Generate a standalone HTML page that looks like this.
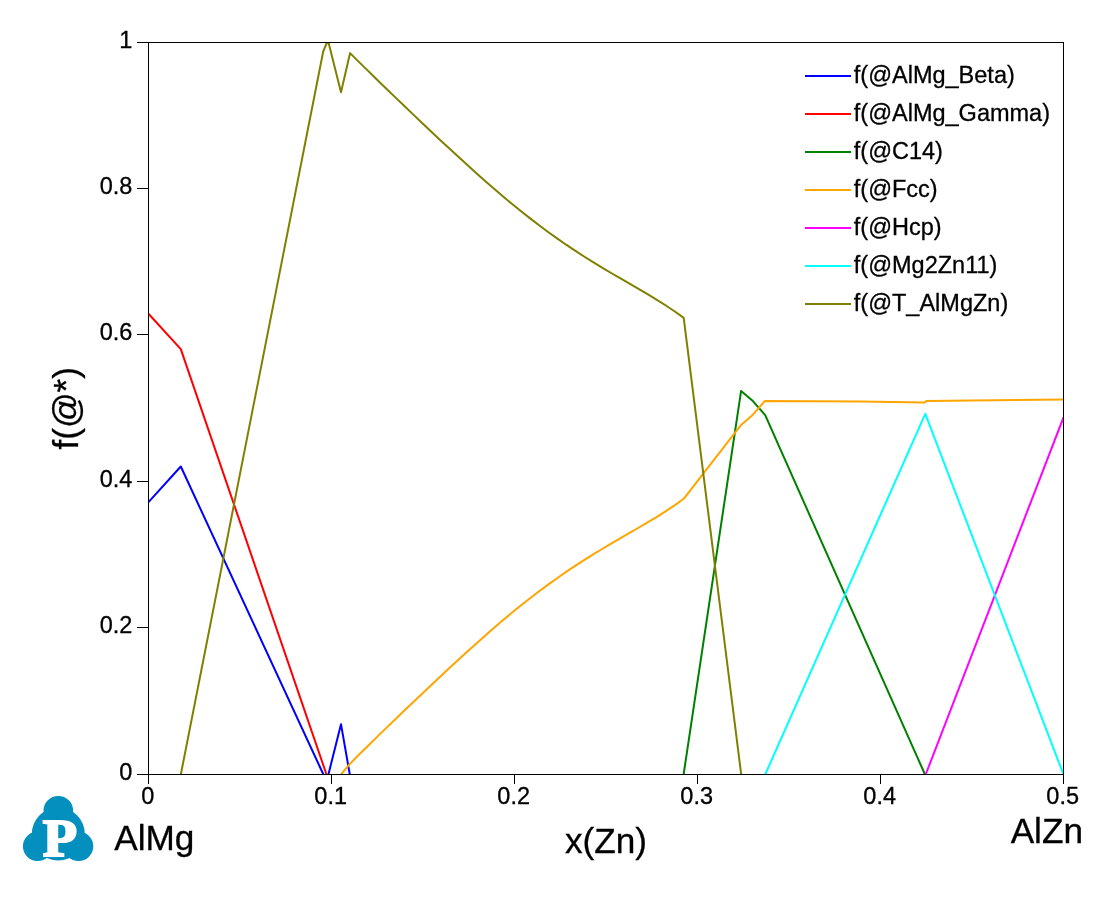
<!DOCTYPE html>
<html lang="en">
<head>
<meta charset="utf-8">
<title>f(@*) vs x(Zn)</title>
<style>
html,body{margin:0;padding:0;background:#fff;}
body{width:1115px;height:907px;overflow:hidden;}
svg{display:block;}
text{font-family:"Liberation Sans",Arial,Helvetica,sans-serif;fill:#000;stroke:#000;stroke-width:0.3px;}
.tick{font-size:23.5px;}
.leg{font-size:23.5px;}
.title{font-size:35.2px;}
.ax{stroke:#000;stroke-width:1;shape-rendering:crispEdges;fill:none;}
.ln{fill:none;stroke-width:2;stroke-linejoin:round;stroke-linecap:butt;}
</style>
</head>
<body>
<svg width="1115" height="907" viewBox="0 0 1115 907">
<rect x="0" y="0" width="1115" height="907" fill="#ffffff"/>
<defs><clipPath id="plot"><rect x="148" y="42" width="916" height="732.5"/></clipPath></defs>
<g clip-path="url(#plot)">
<polyline class="ln" stroke="#0000ff" points="148.5,502.1 180.8,466.5 323.4,774.5"/>
<polyline class="ln" stroke="#0000ff" points="328.4,774.5 341.0,724.2 349.8,774.5"/>
<polyline class="ln" stroke="#ff0000" points="148.5,313.8 180.8,349.1 326.5,774.5"/>
<polyline class="ln" stroke="#008000" points="683.6,774.5 741.1,390.9 752.9,401.1 765.2,415.2 925.0,774.5"/>
<polyline class="ln" stroke="#ffa500" points="341.0,774.5 350.1,763.6 359.1,754.5 368.1,745.7 377.1,736.9 386.1,728.1 395.1,719.5 404.1,710.8 413.1,702.2 422.1,693.7 431.1,685.2 440.1,676.7 449.1,668.3 458.1,660.0 467.1,651.8 476.1,643.7 485.1,635.7 494.1,627.8 503.1,620.1 512.1,612.6 521.1,605.3 530.1,598.2 539.1,591.3 548.1,584.6 557.1,578.2 566.1,571.9 575.1,565.9 584.1,560.1 593.1,554.4 602.1,549.0 611.1,543.6 620.1,538.4 629.1,533.2 638.1,528.0 647.1,522.7 656.1,517.3 665.1,511.6 674.1,505.6 683.1,499.2 683.7,498.8 740.5,425.6 752.9,414.7 764.7,401.1 860.0,401.6 924.9,402.6 926.1,401.0 1063.5,399.6"/>
<polyline class="ln" stroke="#ff00ff" points="925.7,774.5 1063.5,417.4"/>
<polyline class="ln" stroke="#00ffff" points="765.2,774.5 925.3,413.8 1063.5,774.5"/>
<polyline class="ln" stroke="#808000" points="180.8,774.5 323.2,51.5 326.8,42.8 328.6,42.8 341.0,92.2 350.1,53.1 359.1,62.1 368.1,70.9 377.1,79.7 386.1,88.5 395.1,97.1 404.1,105.8 413.1,114.4 422.1,122.9 431.1,131.4 440.1,139.9 449.1,148.3 458.1,156.6 467.1,164.8 476.1,172.9 485.1,180.9 494.1,188.8 503.1,196.5 512.1,204.0 521.1,211.3 530.1,218.4 539.1,225.3 548.1,232.0 557.1,238.4 566.1,244.7 575.1,250.7 584.1,256.5 593.1,262.2 602.1,267.6 611.1,273.0 620.1,278.2 629.1,283.4 638.1,288.6 647.1,293.9 656.1,299.3 665.1,305.0 674.1,311.0 683.1,317.4 683.7,317.9 741.2,774.5"/>
</g>
<rect class="ax" x="148.5" y="42.5" width="915" height="732"/>
<line class="ax" x1="148.5" y1="774.5" x2="148.5" y2="784"/>
<text class="tick" x="147.7" y="803.8" text-anchor="middle">0</text>
<line class="ax" x1="331.5" y1="774.5" x2="331.5" y2="784"/>
<text class="tick" x="330.7" y="803.8" text-anchor="middle">0.1</text>
<line class="ax" x1="514.5" y1="774.5" x2="514.5" y2="784"/>
<text class="tick" x="513.7" y="803.8" text-anchor="middle">0.2</text>
<line class="ax" x1="697.5" y1="774.5" x2="697.5" y2="784"/>
<text class="tick" x="696.7" y="803.8" text-anchor="middle">0.3</text>
<line class="ax" x1="880.5" y1="774.5" x2="880.5" y2="784"/>
<text class="tick" x="879.7" y="803.8" text-anchor="middle">0.4</text>
<line class="ax" x1="1063.5" y1="774.5" x2="1063.5" y2="784"/>
<text class="tick" x="1062.7" y="803.8" text-anchor="middle">0.5</text>
<line class="ax" x1="137" y1="774.5" x2="148.5" y2="774.5"/>
<text class="tick" x="132.4" y="780.3" text-anchor="end">0</text>
<line class="ax" x1="137" y1="627.5" x2="148.5" y2="627.5"/>
<text class="tick" x="132.4" y="633.3" text-anchor="end">0.2</text>
<line class="ax" x1="137" y1="481.5" x2="148.5" y2="481.5"/>
<text class="tick" x="132.4" y="487.3" text-anchor="end">0.4</text>
<line class="ax" x1="137" y1="334.5" x2="148.5" y2="334.5"/>
<text class="tick" x="132.4" y="340.3" text-anchor="end">0.6</text>
<line class="ax" x1="137" y1="188.5" x2="148.5" y2="188.5"/>
<text class="tick" x="132.4" y="194.3" text-anchor="end">0.8</text>
<line class="ax" x1="137" y1="42.5" x2="148.5" y2="42.5"/>
<text class="tick" x="132.4" y="48.3" text-anchor="end">1</text>
<line x1="805" y1="76" x2="851" y2="76" stroke="#0000ff" stroke-width="2"/>
<text class="leg" x="853.8" y="83.2">f(@AlMg_Beta)</text>
<line x1="805" y1="114" x2="851" y2="114" stroke="#ff0000" stroke-width="2"/>
<text class="leg" x="853.8" y="121.2">f(@AlMg_Gamma)</text>
<line x1="805" y1="152" x2="851" y2="152" stroke="#008000" stroke-width="2"/>
<text class="leg" x="853.8" y="159.2">f(@C14)</text>
<line x1="805" y1="190" x2="851" y2="190" stroke="#ffa500" stroke-width="2"/>
<text class="leg" x="853.8" y="197.2">f(@Fcc)</text>
<line x1="805" y1="228" x2="851" y2="228" stroke="#ff00ff" stroke-width="2"/>
<text class="leg" x="853.8" y="235.2">f(@Hcp)</text>
<line x1="805" y1="266" x2="851" y2="266" stroke="#00ffff" stroke-width="2"/>
<text class="leg" x="853.8" y="273.2">f(@Mg2Zn11)</text>
<line x1="805" y1="304" x2="851" y2="304" stroke="#808000" stroke-width="2"/>
<text class="leg" x="853.8" y="311.2">f(@T_AlMgZn)</text>
<text class="title" x="606" y="853" text-anchor="middle">x(Zn)</text>
<text class="title" x="114.2" y="850">AlMg</text>
<text class="title" x="1083" y="843" text-anchor="end">AlZn</text>
<text class="title" transform="translate(77.5,408.3) rotate(-90)" text-anchor="middle">f(@*)</text>
<g fill="#0390be">
<path fill-rule="nonzero" d="M43.5,810.8 a14.8,14.8 0 1,0 29.6,0 a14.8,14.8 0 1,0 -29.6,0 Z M22.9,846.3 a14.7,14.7 0 1,0 29.4,0 a14.7,14.7 0 1,0 -29.4,0 Z M63.9,846.3 a14.7,14.7 0 1,0 29.4,0 a14.7,14.7 0 1,0 -29.4,0 Z M31.8,834 a26.5,26.5 0 1,0 53,0 a26.5,26.5 0 1,0 -53,0 Z"/>
</g>
<text transform="translate(60,856.4) scale(1.08,1)" text-anchor="middle" style="font-family:'Liberation Serif','Times New Roman',serif;font-weight:bold;font-size:52px;fill:#fff;stroke:#fff;stroke-width:2;stroke-linejoin:miter;">P</text>
</svg>
</body>
</html>
